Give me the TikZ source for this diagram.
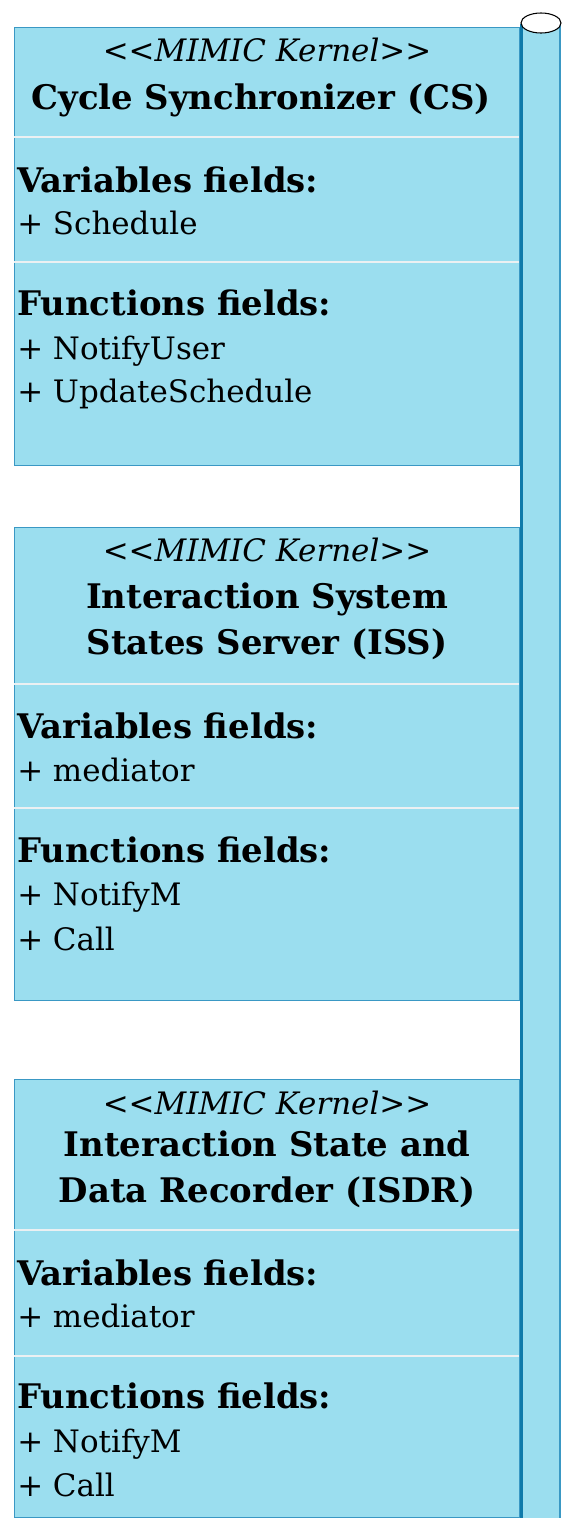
\documentclass[tikz,border=0pt]{standalone}
\usepackage{fontspec}
\setmainfont{DejaVu Serif}
\usepackage{tikz}
\usetikzlibrary{positioning}

\definecolor{classfill}{RGB}{155,222,239}
\definecolor{classline}{RGB}{58,152,196}
\definecolor{lifeline}{RGB}{14,122,170}
\definecolor{sepline}{RGB}{236,240,242}

\newcommand{\fszb}{\fontsize{25.4}{34}\selectfont}
\newcommand{\fszr}{\fontsize{23.2}{30}\selectfont}

\tikzset{
  classbox/.style = {draw = classline, fill = classfill,
                     line width = .8pt, inner sep = 0pt,
                     anchor = north west},
  stereo/.style = {font = \fszr\itshape, inner sep = 0pt, anchor = base},
  classname/.style = {font = \fszb\bfseries, inner sep = 0pt,
                      align = center, anchor = base},
  fieldhead/.style = {font = \fszb\bfseries, inner sep = 0pt,
                      anchor = base west},
  fielditem/.style = {font = \fszr, inner sep = 0pt, anchor = base west},
  sep/.style = {draw = sepline, line width = .8pt}
}

\begin{document}
\begin{tikzpicture}[x = .75pt, y = -.75pt]
\useasboundingbox (0, 0) rectangle (561, 1518);

% the bar on the right
\fill[classfill] (521, 24) rectangle (560, 1520);
\draw[classline, line width = 1pt] (560, 24) -- (560, 1520);
\draw[lifeline, line width = 2.4pt] (521.5, 24) -- (521.5, 1520);
\draw[black, fill = white, line width = .8pt] (541, 23) ellipse (20 and 10);

% Cycle Synchronizer
\node[classbox, minimum width = 378.75pt, minimum height = 328.5pt]
  (cs) at (14, 27) {};
\draw[sep] (14, 137) -- (519, 137);
\draw[sep] (14, 262) -- (519, 262);
\node[stereo] (cs-st) at (267, 61) {<{}<MIMIC Kernel>{}>};
\node[classname] (cs-name) at (261, 109) {Cycle Synchronizer (CS)};
\node[fieldhead] (cs-var) at (17, 192) {Variables fields:};
\node[fielditem] (cs-v1) at (17, 234) {+ Schedule};
\node[fieldhead] (cs-fun) at (17, 315) {Functions fields:};
\node[fielditem] (cs-f1) at (17, 359) {+ NotifyUser};
\node[fielditem] (cs-f2) at (17, 402) {+ UpdateSchedule};

% Interaction System States Server
\node[classbox, minimum width = 378.75pt, minimum height = 354.75pt]
  (iss) at (14, 527) {};
\draw[sep] (14, 684) -- (519, 684);
\draw[sep] (14, 808) -- (519, 808);
\node[stereo] (iss-st) at (267, 561) {<{}<MIMIC Kernel>{}>};
\node[classname] (iss-name) at (267, 654)
  {Interaction System\\States Server (ISS)};
\node[fieldhead] (iss-var) at (17, 738) {Variables fields:};
\node[fielditem] (iss-v1) at (17, 781) {+ mediator};
\node[fieldhead] (iss-fun) at (17, 862) {Functions fields:};
\node[fielditem] (iss-f1) at (17, 905) {+ NotifyM};
\node[fielditem] (iss-f2) at (17, 950) {+ Call};

% Interaction State and Data Recorder
\node[classbox, minimum width = 378.75pt, minimum height = 328.5pt]
  (isdr) at (14, 1079) {};
\draw[sep] (14, 1230) -- (519, 1230);
\draw[sep] (14, 1356) -- (519, 1356);
\node[stereo] (isdr-st) at (267, 1114) {<{}<MIMIC Kernel>{}>};
\node[classname] (isdr-name) at (267, 1202)
  {Interaction State and\\Data Recorder (ISDR)};
\node[fieldhead] (isdr-var) at (17, 1285) {Variables fields:};
\node[fielditem] (isdr-v1) at (17, 1327) {+ mediator};
\node[fieldhead] (isdr-fun) at (17, 1408) {Functions fields:};
\node[fielditem] (isdr-f1) at (17, 1452) {+ NotifyM};
\node[fielditem] (isdr-f2) at (17, 1496) {+ Call};
\end{tikzpicture}
\end{document}
